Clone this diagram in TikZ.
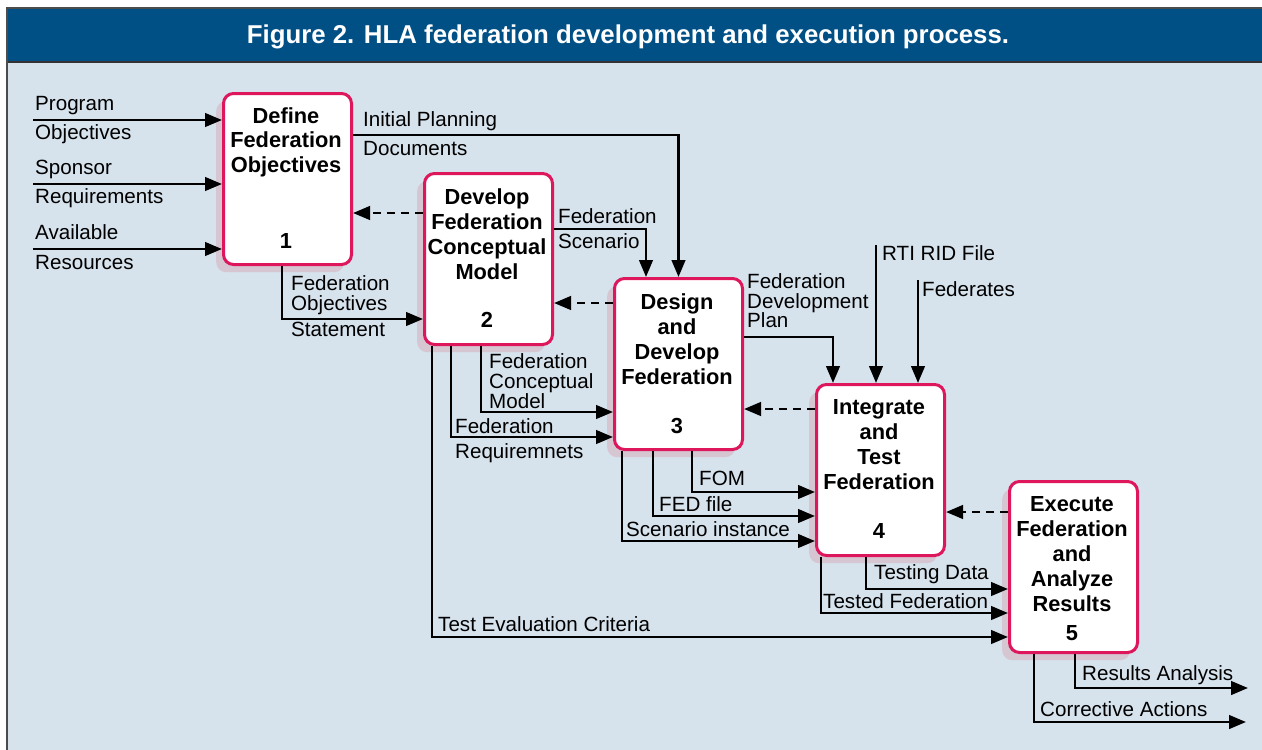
\documentclass[tikz,border=0pt]{standalone}
\usepackage{fontspec}
\setmainfont{Liberation Sans}
\usetikzlibrary{arrows.meta,calc}

\definecolor{titlebar}{RGB}{0,80,134}
\definecolor{panel}{RGB}{214,226,236}
\definecolor{boxrim}{RGB}{222,22,92}
\definecolor{boxshade}{RGB}{213,198,210}

\tikzset{
  procbox/.style={rectangle, rounded corners=10pt, draw=boxrim, line width=3pt,
    fill=white, minimum width=128pt, minimum height=171pt, anchor=north west, inner sep=0pt},
  shadebox/.style={rectangle, rounded corners=10pt, fill=boxshade,
    minimum width=128pt, minimum height=171pt, anchor=north west, inner sep=0pt},
  boxtext/.style={font=\bfseries\fontsize{21.8}{25}\selectfont, align=center, anchor=north, inner sep=0pt},
  boxnum/.style={font=\bfseries\fontsize{21.8}{25}\selectfont, anchor=base, inner sep=0pt},
  lbl/.style={font=\fontsize{20.6}{24}\selectfont, anchor=base west, inner sep=0pt},
  flow/.style={line width=2.8pt, -{Triangle[length=17pt,width=13.5pt]}},
  feedback/.style={line width=2.8pt, dash pattern=on 8pt off 6pt, -{Triangle[length=17pt,width=13.5pt]}},
}

\begin{document}
\begin{tikzpicture}[x=1pt,y=-1pt]
\useasboundingbox (0,0) rectangle (1262,750);
\fill[white] (0,0) rectangle (1262,750);

% panel and title bar
\fill[panel] (7,8) rectangle (1262,760);
\fill[titlebar] (7,8) rectangle (1262,62);
\draw[line width=1.2pt, black!80] (7,62) -- (1262,62);
\draw[line width=1.2pt, black!70] (1262,8) -- (7,8) -- (7,760);
\node[font=\bfseries\fontsize{25.8}{30}\selectfont, text=white, anchor=base, inner sep=0pt] (title)
  at (628,43) {Figure 2. HLA federation development and execution process.};

% shadows under the process boxes
\node[shadebox] (s1) at (216,101) {};
\node[shadebox] (s2) at (417,181) {};
\node[shadebox] (s3) at (607,286) {};
\node[shadebox] (s4) at (809,392) {};
\node[shadebox] (s5) at (1002,489) {};

% process boxes
\node[procbox] (b1) at (222,92) {};
\node[procbox] (b2) at (423,172) {};
\node[procbox] (b3) at (613,277) {};
\node[procbox] (b4) at (815,383) {};
\node[procbox] (b5) at (1008,480) {};

\node[boxtext] (t1) at (286,107) {Define\\Federation\\Objectives};
\node[boxtext] (t2) at (487,188) {Develop\\Federation\\Conceptual\\Model};
\node[boxtext] (t3) at (677,293) {Design\\and\\Develop\\Federation};
\node[boxtext] (t4) at (879,399) {Integrate\\and\\Test\\Federation};
\node[boxtext] (t5) at (1072,496) {Execute\\Federation\\and\\Analyze\\Results};

\node[boxnum] (n1) at (286,248) {1};
\node[boxnum] (n2) at (487,327) {2};
\node[boxnum] (n3) at (677,433) {3};
\node[boxnum] (n4) at (879,538) {4};
\node[boxnum] (n5) at (1072,640) {5};

% external inputs and outputs
\coordinate (in1) at (33,120);
\coordinate (in2) at (33,184);
\coordinate (in3) at (33,249);
\coordinate (rti) at (876,245);
\coordinate (fedin) at (918,280);
\coordinate (out1) at (1248,688);
\coordinate (out2) at (1246,722);

\draw[flow] (in1) -- (in1 -| b1.west);
\draw[flow] (in2) -- (in2 -| b1.west);
\draw[flow] (in3) -- (in3 -| b1.west);
\draw[flow] (rti) -- (rti |- b4.north);
\draw[flow] (fedin) -- (fedin |- b4.north);

% forward products
\draw[flow] ($(b1.north east)+(0,43)$) -| (b3.north);
\draw[flow] ($(b2.north east)+(0,57)$) -| ($(b3.north west)+(33,0)$);
\draw[flow] ($(b1.south west)+(60,0)$) |- ($(b2.north west)+(0,147)$);
\draw[flow] ($(b2.south west)+(9,0)$) |- ($(b5.north west)+(0,157)$);
\draw[flow] ($(b2.south west)+(28,0)$) |- ($(b3.north west)+(0,160)$);
\draw[flow] ($(b2.south west)+(58,0)$) |- ($(b3.north west)+(0,135)$);
\draw[flow] ($(b3.north east)+(0,60)$) -| ($(b4.north west)+(18,0)$);
\draw[flow] ($(b3.south west)+(79,0)$) |- ($(b4.north west)+(0,109)$);
\draw[flow] ($(b3.south west)+(40,0)$) |- ($(b4.north west)+(0,133)$);
\draw[flow] ($(b3.south west)+(9,0)$) |- ($(b4.north west)+(0,158)$);
\draw[flow] ($(b4.south west)+(51,0)$) |- ($(b5.north west)+(0,109)$);
\draw[flow] ($(b4.south west)+(6,0)$) |- ($(b5.north west)+(0,133)$);
\draw[flow] ($(b5.south west)+(67,0)$) |- (out1);
\draw[flow] ($(b5.south west)+(26,0)$) |- (out2);

% feedback
\draw[feedback] ($(b2.north west)+(0,41)$) -- ($(b1.north east)+(0,121)$);
\draw[feedback] ($(b3.north west)+(0,26)$) -- ($(b2.north east)+(0,131)$);
\draw[feedback] ($(b4.north west)+(0,26)$) -- ($(b3.north east)+(0,132)$);
\draw[feedback] ($(b5.north west)+(0,32)$) -- ($(b4.north east)+(0,129)$);

% labels
\node[lbl] (l1) at (35,110) {Program};
\node[lbl] (l2) at (35,139) {Objectives};
\node[lbl] (l3) at (35,174) {Sponsor};
\node[lbl] (l4) at (35,203) {Requirements};
\node[lbl] (l5) at (35,239) {Available};
\node[lbl] (l6) at (35,269) {Resources};
\node[lbl] (l7) at (363,126) {Initial Planning};
\node[lbl] (l8) at (363,155) {Documents};
\node[lbl] (l9) at (291,290) {Federation};
\node[lbl] (l10) at (291,310) {Objectives};
\node[lbl] (l11) at (291,336) {Statement};
\node[lbl] (l12) at (558,223) {Federation};
\node[lbl] (l13) at (558,248) {Scenario};
\node[lbl] (l14) at (489,368) {Federation};
\node[lbl] (l15) at (489,388) {Conceptual};
\node[lbl] (l16) at (489,408) {Model};
\node[lbl] (l17) at (455,433) {Federation};
\node[lbl] (l18) at (455,458) {Requiremnets};
\node[lbl] (l19) at (747,288) {Federation};
\node[lbl] (l20) at (747,308) {Development};
\node[lbl] (l21) at (747,327) {Plan};
\node[lbl] (l22) at (882,260) {RTI RID File};
\node[lbl] (l23) at (922,296) {Federates};
\node[lbl] (l24) at (699,485) {FOM};
\node[lbl] (l25) at (659,511) {FED file};
\node[lbl] (l26) at (626,536) {Scenario instance};
\node[lbl] (l27) at (438,631) {Test Evaluation Criteria};
\node[lbl] (l28) at (874,579) {Testing Data};
\node[lbl] (l29) at (823,608) {Tested Federation};
\node[lbl] (l30) at (1082,680) {Results Analysis};
\node[lbl] (l31) at (1040,716) {Corrective Actions};
\end{tikzpicture}
\end{document}
